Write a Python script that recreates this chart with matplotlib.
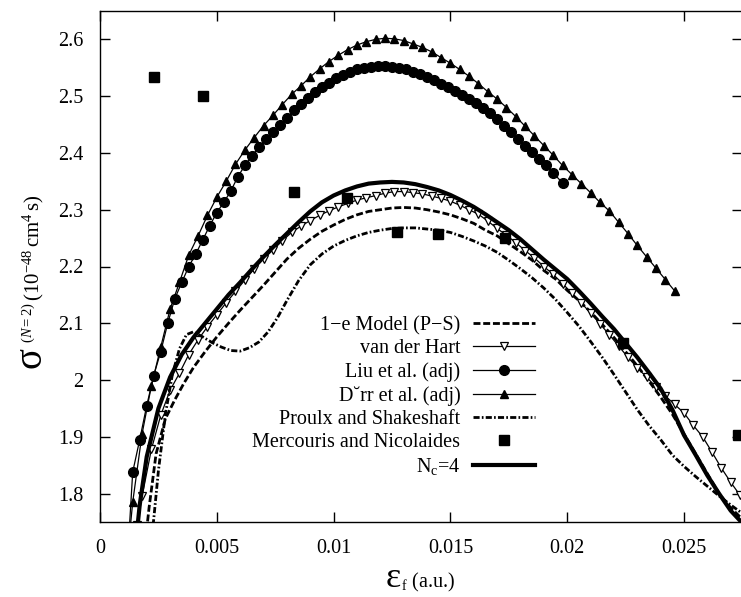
import numpy as np
import matplotlib
matplotlib.use("Agg")
import matplotlib.pyplot as plt
from matplotlib.ticker import FuncFormatter

plt.rcParams['font.family'] = ['Liberation Serif', 'DejaVu Serif']
plt.rcParams['mathtext.fontset'] = 'custom'
plt.rcParams['mathtext.rm'] = 'Liberation Serif'
plt.rcParams['mathtext.it'] = 'Liberation Serif:italic'

# 1-e model (P-S), dashed
model_x = [0.0019, 0.0021, 0.0024, 0.0028, 0.0032, 0.0036, 0.0040, 0.0045, 0.0050, 0.0055,
           0.0060, 0.0065, 0.0070, 0.0075, 0.0080, 0.0085, 0.0090, 0.0095, 0.0100, 0.0105,
           0.0110, 0.0115, 0.0120, 0.0125, 0.0130, 0.0135, 0.0140, 0.0145, 0.0150, 0.0155,
           0.0160, 0.0165, 0.0170, 0.0175, 0.0180, 0.0185, 0.0190, 0.0195, 0.0200, 0.0205,
           0.0210, 0.0215, 0.0220, 0.0225, 0.0230, 0.0235, 0.0240, 0.0245, 0.0250, 0.0255,
           0.0260, 0.0265, 0.0270, 0.0275]
model_y = [1.700, 1.775, 1.870, 1.932, 1.965, 1.995, 2.022, 2.050, 2.076, 2.100,
           2.123, 2.145, 2.167, 2.190, 2.213, 2.232, 2.248, 2.262, 2.273, 2.283,
           2.291, 2.297, 2.300, 2.303, 2.304, 2.303, 2.300, 2.296, 2.291, 2.284,
           2.276, 2.264, 2.254, 2.240, 2.226, 2.211, 2.193, 2.178, 2.158, 2.140,
           2.120, 2.098, 2.075, 2.050, 2.025, 1.998, 1.970, 1.940, 1.905, 1.870,
           1.835, 1.800, 1.775, 1.755]

# van der Hart, open down triangles
vdh_x = [0.0016, 0.0018, 0.0022, 0.0026, 0.0030, 0.0034, 0.0038, 0.0042, 0.0046, 0.0050,
         0.0054, 0.0058, 0.0062, 0.0066, 0.0070, 0.0074, 0.0078, 0.0082, 0.0086, 0.0090,
         0.0094, 0.0098, 0.0102, 0.0106, 0.0110, 0.0114, 0.0118, 0.0122, 0.0126, 0.0130,
         0.0134, 0.0138, 0.0142, 0.0146, 0.0150, 0.0154, 0.0158, 0.0162, 0.0166, 0.0170,
         0.0174, 0.0178, 0.0182, 0.0186, 0.0190, 0.0194, 0.0198, 0.0202, 0.0206, 0.0210,
         0.0214, 0.0218, 0.0222, 0.0226, 0.0230, 0.0234, 0.0238, 0.0242, 0.0246, 0.0250,
         0.0254, 0.0258, 0.0262, 0.0266, 0.0270, 0.0274, 0.0278]
vdh_y = [1.745, 1.795, 1.878, 1.938, 1.982, 2.012, 2.045, 2.071, 2.094, 2.115,
         2.136, 2.156, 2.176, 2.196, 2.213, 2.229, 2.245, 2.260, 2.271, 2.281,
         2.290, 2.298, 2.305, 2.311, 2.317, 2.321, 2.325, 2.329, 2.332, 2.332,
         2.330, 2.328, 2.324, 2.320, 2.315, 2.308, 2.300, 2.292, 2.280, 2.267,
         2.255, 2.242, 2.228, 2.215, 2.200, 2.186, 2.170, 2.153, 2.136, 2.118,
         2.099, 2.080, 2.060, 2.040, 2.022, 2.005, 1.988, 1.972, 1.957, 1.942,
         1.920, 1.900, 1.873, 1.845, 1.820, 1.797, 1.775]

# Liu et al. (adj), filled circles
liu_x = [0.0012, 0.0014, 0.0017, 0.0020, 0.0023, 0.0026, 0.0029, 0.0032, 0.0035, 0.0038,
         0.0041, 0.0044, 0.0047, 0.0050, 0.0053, 0.0056, 0.0059, 0.0062, 0.0065, 0.0068,
         0.0071, 0.0074, 0.0077, 0.0080, 0.0083, 0.0086, 0.0089, 0.0092, 0.0095, 0.0098,
         0.0101, 0.0104, 0.0107, 0.0110, 0.0113, 0.0116, 0.0119, 0.0122, 0.0125, 0.0128,
         0.0131, 0.0134, 0.0137, 0.0140, 0.0143, 0.0146, 0.0149, 0.0152, 0.0155, 0.0158,
         0.0161, 0.0164, 0.0167, 0.0170, 0.0173, 0.0176, 0.0179, 0.0182, 0.0185, 0.0188,
         0.0191, 0.0194, 0.0198]
liu_y = [1.700, 1.838, 1.895, 1.955, 2.008, 2.050, 2.100, 2.143, 2.172, 2.200,
         2.222, 2.247, 2.272, 2.295, 2.313, 2.333, 2.358, 2.378, 2.395, 2.410,
         2.424, 2.437, 2.450, 2.462, 2.475, 2.487, 2.497, 2.507, 2.516, 2.524,
         2.532, 2.538, 2.543, 2.547, 2.550, 2.552, 2.553, 2.553, 2.552, 2.550,
         2.547, 2.543, 2.539, 2.534, 2.528, 2.522, 2.516, 2.509, 2.502, 2.495,
         2.488, 2.480, 2.470, 2.459, 2.448, 2.437, 2.425, 2.413, 2.401, 2.390,
         2.378, 2.365, 2.347]

# Dorr et al. (adj), filled up triangles
dorr_x = [0.0012, 0.0014, 0.0018, 0.0022, 0.0026, 0.0030, 0.0034, 0.0038, 0.0042, 0.0046,
          0.0050, 0.0054, 0.0058, 0.0062, 0.0066, 0.0070, 0.0074, 0.0078, 0.0082, 0.0086,
          0.0090, 0.0094, 0.0098, 0.0102, 0.0106, 0.0110, 0.0114, 0.0118, 0.0122, 0.0126,
          0.0130, 0.0134, 0.0138, 0.0142, 0.0146, 0.0150, 0.0154, 0.0158, 0.0162, 0.0166,
          0.0170, 0.0174, 0.0178, 0.0182, 0.0186, 0.0190, 0.0194, 0.0198, 0.0202, 0.0206,
          0.0210, 0.0214, 0.0218, 0.0222, 0.0226, 0.0230, 0.0234, 0.0238, 0.0242, 0.0246]
dorr_y = [1.700, 1.785, 1.905, 1.990, 2.058, 2.125, 2.172, 2.220, 2.254, 2.290,
          2.322, 2.350, 2.380, 2.405, 2.427, 2.448, 2.466, 2.485, 2.503, 2.518,
          2.534, 2.548, 2.561, 2.572, 2.582, 2.590, 2.596, 2.600, 2.602, 2.601,
          2.598, 2.592, 2.586, 2.578, 2.568, 2.558, 2.547, 2.535, 2.522, 2.508,
          2.495, 2.480, 2.464, 2.447, 2.430, 2.413, 2.396, 2.378, 2.362, 2.346,
          2.330, 2.313, 2.298, 2.278, 2.258, 2.237, 2.217, 2.197, 2.177, 2.157]

# Proulx and Shakeshaft, dash-dot
ps_x = [0.0021, 0.0023, 0.0025, 0.0028, 0.0031, 0.0034, 0.0037, 0.0040, 0.0044, 0.0048,
        0.0052, 0.0056, 0.0060, 0.0064, 0.0068, 0.0072, 0.0076, 0.0080, 0.0085, 0.0090,
        0.0095, 0.0100, 0.0105, 0.0110, 0.0115, 0.0120, 0.0125, 0.0130, 0.0135, 0.0140,
        0.0145, 0.0150, 0.0155, 0.0160, 0.0165, 0.0170, 0.0175, 0.0180, 0.0185, 0.0190,
        0.0195, 0.0200, 0.0205, 0.0210, 0.0215, 0.0220, 0.0225, 0.0230, 0.0235, 0.0240,
        0.0245, 0.0250, 0.0255, 0.0260, 0.0265, 0.0270, 0.0275]
ps_y = [1.680, 1.755, 1.840, 1.940, 2.010, 2.055, 2.080, 2.085, 2.076, 2.066,
        2.058, 2.052, 2.051, 2.057, 2.067, 2.085, 2.110, 2.140, 2.175, 2.203,
        2.222, 2.236, 2.246, 2.254, 2.260, 2.264, 2.267, 2.268, 2.268, 2.266,
        2.264, 2.260, 2.253, 2.245, 2.236, 2.225, 2.211, 2.196, 2.180, 2.162,
        2.142, 2.119, 2.095, 2.068, 2.040, 2.010, 1.979, 1.948, 1.920, 1.895,
        1.868, 1.848, 1.830, 1.813, 1.796, 1.780, 1.765]

# Mercouris and Nicolaides, squares
mn_x = [0.00231, 0.0044, 0.0083, 0.01056, 0.0127, 0.01448, 0.01734, 0.0224, 0.02731]
mn_y = [2.533, 2.500, 2.331, 2.321, 2.261, 2.257, 2.250, 2.065, 1.903]

# N_c = 4, thick solid
nc_x = [0.0015, 0.0017, 0.0020, 0.0025, 0.0030, 0.0035, 0.0040, 0.0045, 0.0050, 0.0055,
        0.0060, 0.0065, 0.0070, 0.0075, 0.0080, 0.0085, 0.0090, 0.0095, 0.0100, 0.0105,
        0.0110, 0.0115, 0.0120, 0.0125, 0.0130, 0.0135, 0.0140, 0.0145, 0.0150, 0.0155,
        0.0160, 0.0165, 0.0170, 0.0175, 0.0180, 0.0185, 0.0190, 0.0195, 0.0200, 0.0205,
        0.0210, 0.0215, 0.0220, 0.0225, 0.0230, 0.0235, 0.0240, 0.0245, 0.0250, 0.0255,
        0.0260, 0.0265, 0.0270, 0.0275, 0.0280]
nc_y = [1.700, 1.780, 1.865, 1.950, 2.005, 2.045, 2.075, 2.100, 2.125, 2.150,
        2.172, 2.195, 2.217, 2.238, 2.258, 2.278, 2.297, 2.313, 2.325, 2.334,
        2.341, 2.346, 2.348, 2.349, 2.348, 2.345, 2.340, 2.334, 2.326, 2.316,
        2.305, 2.292, 2.278, 2.264, 2.248, 2.230, 2.212, 2.195, 2.178, 2.157,
        2.135, 2.112, 2.090, 2.065, 2.040, 2.013, 1.985, 1.948, 1.903, 1.868,
        1.832, 1.800, 1.770, 1.748, 1.730]

fig = plt.figure(figsize=(7.41, 5.97), dpi=100)
ax = fig.add_axes([100 / 741, 1 - 522 / 597, 642.4 / 741, 511 / 597])

ax.plot(model_x, model_y, color='black', lw=2.0, dashes=(2.5, 1.0), label='1\u2212e Model (P\u2212S)')
ax.plot(vdh_x, vdh_y, color='black', lw=0.9, marker='v', ms=6, mfc='white', mec='black',
        mew=0.9, label='van der Hart')
ax.plot(liu_x, liu_y, color='black', lw=0.9, marker='o', ms=7, label='Liu et al. (adj)')
ax.plot(dorr_x, dorr_y, color='black', lw=0.9, marker='^', ms=6, label='D\u02d8rr et al. (adj)')
ax.plot(ps_x, ps_y, color='black', lw=2.0, dashes=(2.2, 0.8, 0.6, 0.8), label='Proulx and Shakeshaft')
ax.plot(mn_x, mn_y, ls='none', color='black', marker='s', ms=6.5, label='Mercouris and Nicolaides')
ax.plot(nc_x, nc_y, color='black', lw=3.0, label=r'N$_\mathrm{c}$=4')

ax.set_xlim(0, 0.0275)
ax.set_ylim(1.75, 2.65)
ax.set_xticks([0, 0.005, 0.01, 0.015, 0.02, 0.025])
ax.set_yticks([1.8, 1.9, 2.0, 2.1, 2.2, 2.3, 2.4, 2.5, 2.6])
fmt = FuncFormatter(lambda v, p: '%g' % round(v, 4))
ax.xaxis.set_major_formatter(fmt)
ax.yaxis.set_major_formatter(fmt)
ax.tick_params(direction='in', length=7, width=1, labelsize=14.5, top=True, right=True, pad=12)
for s in ax.spines.values():
    s.set_linewidth(1.0)

leg = ax.legend(loc='upper right', bbox_to_anchor=(535 / 741, 1 - 316 / 597),
                bbox_transform=fig.transFigure, frameon=False, markerfirst=False,
                fontsize=14.5, handlelength=3.1, handletextpad=0.6, labelspacing=0.2,
                borderpad=0, borderaxespad=0)
for t in leg.get_texts():
    t.set_ha('right')

# axis labels built from pieces so the greek letter can be larger
fig.text(31 / 741, 1 - 357 / 597, '\u03c3', rotation=90, fontsize=28, ha='center', va='center')
fig.text(33 / 741, 1 - 343 / 597, r'$^{(N=2)}\,(10^{-48}\,\mathrm{cm}^{4}\,\mathrm{s})$',
         rotation=90, fontsize=15, ha='center', va='bottom')
fig.text(401 / 741, 1 - 587 / 597, '\u03b5', fontsize=26, ha='right', va='baseline')
fig.text(401 / 741, 1 - 587 / 597, r'$_\mathrm{f}$ (a.u.)', fontsize=14.5, ha='left', va='baseline')

fig.savefig('out.png', dpi=100)
